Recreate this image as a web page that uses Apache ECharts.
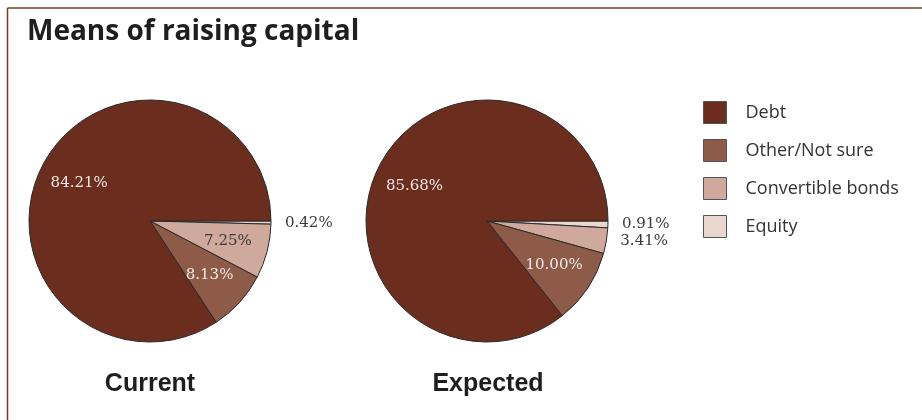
<!DOCTYPE html>
<html>
<head>
<meta charset="utf-8">
<script src="https://cdn.jsdelivr.net/npm/echarts@6/dist/echarts.min.js"></script>
<style>
html,body{margin:0;padding:0;background:#fff;}
#chart{width:922px;height:420px;}
</style>
</head>
<body>
<div id="chart"></div>
<script>
// Data
const categories = ['Equity', 'Convertible bonds', 'Other/Not sure', 'Debt'];
const legendOrder = ['Debt', 'Other/Not sure', 'Convertible bonds', 'Equity'];
const currentValues = [0.42, 7.25, 8.13, 84.21];
const expectedValues = [0.91, 3.41, 10.00, 85.68];
const pieTitles = ['Current', 'Expected'];
const chartTitle = 'Means of raising capital';

const colors = {
  'Debt': '#6b2d1d',
  'Other/Not sure': '#8f5b49',
  'Convertible bonds': '#cea99c',
  'Equity': '#e9d6cd'
};
const insideTextColor = {
  'Debt': '#f3e9e4',
  'Other/Not sure': '#f3e9e4',
  'Convertible bonds': '#3a3a3a',
  'Equity': '#3a3a3a'
};
const INSIDE_MIN = 5;
const labelFont = 'DejaVu Serif';
const pieTitleFont = '"Liberation Sans", sans-serif';
const fmt = v => v.toFixed(2) + '%';

function mainSeries(values, center) {
  return {
    type: 'pie',
    center: center,
    radius: 121,
    startAngle: 0,
    clockwise: true,
    silent: true,
    avoidLabelOverlap: false,
    itemStyle: { borderColor: '#2a2a2a', borderWidth: 1 },
    label: {
      show: true,
      position: 'outside',
      formatter: p => fmt(p.value),
      fontFamily: labelFont,
      fontSize: 15,
      color: '#3a3a3a'
    },
    labelLine: { show: false, length: 3, length2: 6 },
    data: categories.map((c, i) => ({
      name: c,
      value: values[i],
      itemStyle: { color: colors[c] },
      label: { show: values[i] < INSIDE_MIN }
    }))
  };
}
function labelRing(values, center) {
  return {
    type: 'pie',
    center: center,
    radius: [34, 121],
    startAngle: 0,
    clockwise: true,
    silent: true,
    legendHoverLink: false,
    itemStyle: { color: 'rgba(0,0,0,0)', borderWidth: 0 },
    label: {
      show: true,
      position: 'inside',
      formatter: p => fmt(p.value),
      fontFamily: labelFont,
      fontSize: 15
    },
    labelLine: { show: false },
    data: categories.map((c, i) => ({
      name: c + ' ',
      value: values[i],
      label: { show: values[i] >= INSIDE_MIN, color: insideTextColor[c] }
    }))
  };
}

const centers = [[150, 221], [487, 221]];
const chart = echarts.init(document.getElementById('chart'));
chart.setOption({
  animation: false,
  color: categories.map(c => colors[c]),
  title: [
    { text: chartTitle, left: 27, top: 18, padding: 0,
      textStyle: { fontFamily: 'Open Sans', fontWeight: 'bold', fontSize: 28, color: '#1e1e1e' } },
    { text: pieTitles[0], left: 150, top: 372, textAlign: 'center', padding: 0,
      textStyle: { fontFamily: pieTitleFont, fontWeight: 'bold', fontSize: 25, color: '#1e1e1e' } },
    { text: pieTitles[1], left: 488, top: 372, textAlign: 'center', padding: 0,
      textStyle: { fontFamily: pieTitleFont, fontWeight: 'bold', fontSize: 25, color: '#1e1e1e' } }
  ],
  legend: {
    orient: 'vertical',
    left: 703,
    top: 101,
    padding: 0,
    itemWidth: 23,
    itemHeight: 22,
    itemGap: 15,
    icon: 'rect',
    selectedMode: false,
    data: legendOrder,
    itemStyle: { borderColor: '#555', borderWidth: 1 },
    textStyle: { fontFamily: 'Open Sans', fontSize: 18, color: '#333', padding: [0, 0, 0, 14] }
  },
  graphic: [
    { type: 'line', shape: { x1: 7.5, y1: 8, x2: 922, y2: 8 }, style: { stroke: '#7b3b2b', lineWidth: 1.5 } },
    { type: 'line', shape: { x1: 7.5, y1: 8, x2: 7.5, y2: 420 }, style: { stroke: '#7b3b2b', lineWidth: 1.5 } }
  ],
  series: [
    mainSeries(currentValues, centers[0]),
    labelRing(currentValues, centers[0]),
    mainSeries(expectedValues, centers[1]),
    labelRing(expectedValues, centers[1])
  ]
});
</script>
</body>
</html>
